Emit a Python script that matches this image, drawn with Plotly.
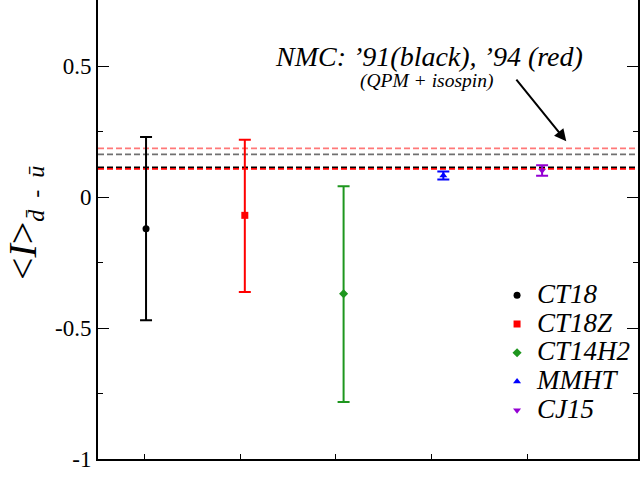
import plotly.graph_objects as go

# ---- data ----
names = ["CT18", "CT18Z", "CT14H2", "MMHT", "CJ15"]
x_pos = [1.02, 2.05, 3.08, 4.12, 5.15]
centers = [-0.121, -0.070, -0.369, 0.082, 0.101]
err_plus = [0.350, 0.289, 0.410, 0.015, 0.020]
err_minus = [0.349, 0.293, 0.413, 0.015, 0.020]
colors = ["#000000", "#ff0000", "#1e961e", "#0000ff", "#9400d3"]
symbols = ["circle", "square", "diamond", "triangle-up", "triangle-down"]

# NMC reference lines
nmc_vals = [0.186, 0.163, 0.1135, 0.1075]
nmc_colors = ["#ff7878", "#707070", "#000000", "#ff0000"]

x_range = [0.519, 6.15]
y_range = [-1.0, 0.752]
x_ticks = [1, 2, 3, 4, 5]
y_ticks = [-1, -0.5, 0, 0.5]
y_ticktext = ["-1", "-0.5", "0", "0.5"]
y_minor = [-0.75, -0.25, 0.25, 0.75]

FONT = "Liberation Serif"

fig = go.Figure()

for v, c in zip(nmc_vals, nmc_colors):
    fig.add_trace(go.Scatter(x=x_range, y=[v, v], mode="lines",
                             line=dict(color=c, width=1.8, dash="6px,3px"),
                             showlegend=False, hoverinfo="skip"))

for n, xp, cy, ep, em, c, s in zip(names, x_pos, centers, err_plus, err_minus, colors, symbols):
    fig.add_trace(go.Scatter(
        x=[xp], y=[cy], mode="markers",
        name=f'<span style="font-family:Liberation Serif;font-size:27px"><i>{n}</i></span>',
        marker=dict(color=c, symbol=s, size=7),
        error_y=dict(type="data", array=[ep], arrayminus=[em], color=c,
                     thickness=2, width=6, symmetric=False),
    ))

fig.add_annotation(x=3.968, y=0.535, xref="x", yref="y",
                   text="<i>NMC: ’91(black), ’94 (red)</i>", showarrow=False,
                   font=dict(family=FONT, size=28, color="black"))
fig.add_annotation(x=3.947, y=0.441, xref="x", yref="y",
                   text="<i>(QPM + isospin)</i>", showarrow=False,
                   font=dict(family=FONT, size=19.5, color="black"))
fig.add_annotation(x=5.402, y=0.2126, xref="x", yref="y",
                   ax=4.869, ay=0.454, axref="x", ayref="y",
                   text="", showarrow=True, arrowhead=2, arrowsize=1.2,
                   arrowwidth=2, arrowcolor="black", standoff=0)

fig.add_annotation(x=-0.137, y=0.514, xref="paper", yref="paper",
                   text='&lt;<i>I</i>&gt;<sub><i><span style="font-size:24px">d̄&nbsp; - &nbsp;ū</span></i></sub>',
                   textangle=-90, showarrow=False, xanchor="center", yanchor="middle",
                   font=dict(family=FONT, size=40, color="black"))

fig.update_layout(
    width=640, height=478,
    margin=dict(l=98, r=0, t=0, b=19),
    paper_bgcolor="white", plot_bgcolor="white",
    font=dict(family=FONT, color="black"),
    showlegend=True,
    legend=dict(x=0.739, y=0.399, xanchor="left", yanchor="top",
                bgcolor="rgba(0,0,0,0)", font=dict(family=FONT, size=19.8),
                tracegroupgap=0),
    xaxis=dict(range=x_range, showgrid=False, zeroline=False,
               showline=True, linecolor="black", linewidth=2,
               ticks="inside", ticklen=5, tickwidth=1, tickcolor="black",
               tickvals=x_ticks, showticklabels=False, mirror=False),
    yaxis=dict(range=y_range, showgrid=False, zeroline=False,
               showline=True, linecolor="black", linewidth=2, mirror="ticks",
               ticks="inside", ticklen=11, tickwidth=1, tickcolor="black",
               tickvals=y_ticks, ticktext=y_ticktext,
               tickfont=dict(family=FONT, size=23, color="black"),
               minor=dict(tickvals=y_minor, ticks="inside", ticklen=5,
                          tickwidth=1, tickcolor="black", showgrid=False)),
)

fig.write_html("out.html")
